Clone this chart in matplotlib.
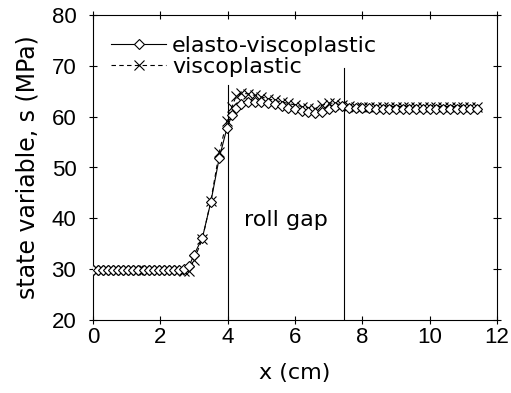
import matplotlib.pyplot as plt

# x positions (cm)
x = [0.0, 0.15, 0.3, 0.45, 0.6, 0.75, 0.9, 1.05, 1.2, 1.35, 1.5, 1.65, 1.8, 1.95,
     2.1, 2.25, 2.4, 2.55, 2.7, 2.85, 3.0, 3.25, 3.5, 3.75, 3.98, 4.13, 4.25, 4.4,
     4.6, 4.8, 5.0, 5.2, 5.4, 5.6, 5.8, 6.0, 6.2, 6.4, 6.6, 6.8, 7.0, 7.2, 7.4,
     7.6, 7.8, 8.0, 8.2, 8.4, 8.6, 8.8, 9.0, 9.2, 9.4, 9.6, 9.8, 10.0, 10.2, 10.4,
     10.6, 10.8, 11.0, 11.2, 11.4]

elasto = [29.8, 29.8, 29.8, 29.8, 29.8, 29.8, 29.8, 29.8, 29.8, 29.8, 29.8, 29.8, 29.8, 29.8,
          29.8, 29.8, 29.8, 29.9, 30.1, 30.6, 32.8, 36.2, 43.2, 51.9, 57.8, 60.3, 61.8, 62.5,
          62.8, 62.9, 62.8, 62.6, 62.4, 62.1, 61.8, 61.5, 61.2, 60.9, 60.7, 60.9, 61.6, 62.0, 62.1,
          61.8, 61.7, 61.7, 61.7, 61.6, 61.6, 61.6, 61.6, 61.6, 61.6, 61.6, 61.6, 61.6, 61.6, 61.6,
          61.6, 61.6, 61.6, 61.6, 61.6]

visco = [29.9, 29.9, 29.9, 29.9, 29.9, 29.9, 29.9, 29.9, 29.9, 29.9, 29.9, 29.9, 29.9, 29.9,
         29.9, 29.9, 29.9, 29.8, 29.7, 29.6, 31.8, 36.0, 43.4, 53.0, 59.2, 62.0, 64.0, 64.6,
         64.5, 64.2, 63.9, 63.5, 63.2, 62.9, 62.6, 62.3, 62.0, 61.8, 61.6, 62.2, 62.7, 62.6, 62.3,
         62.1, 62.0, 62.0, 62.0, 62.0, 62.0, 62.0, 62.0, 62.0, 62.0, 62.0, 62.0, 62.0, 62.0, 62.0,
         62.0, 62.0, 62.0, 62.0, 62.0]

gap_start, gap_end = 4.0, 7.45

plt.rcParams['font.family'] = 'DejaVu Sans'
fs = 16
fig = plt.figure(figsize=(5.11, 3.93), dpi=100)
ax = fig.add_axes([93/511, 73/393, 404/511, 305/393])

ax.plot(x, elasto, color="black", linewidth=0.8, marker="D", markersize=5,
        markerfacecolor="white", markeredgecolor="black", markeredgewidth=0.8,
        label="elasto-viscoplastic", zorder=3)
ax.plot(x, visco, color="black", linewidth=0.8, linestyle=(0, (4, 3)), marker="x",
        markersize=7, markeredgewidth=0.8, label="viscoplastic", zorder=2)

ax.plot([gap_start, gap_start], [20, 66.2], color="black", linewidth=0.8)
ax.plot([gap_end, gap_end], [20, 69.6], color="black", linewidth=0.8)
ax.text(4.5, 39.7, "roll gap", fontsize=fs, va="center")

ax.set_xlim(0, 12)
ax.set_ylim(20, 80)
ax.set_xticks([0, 2, 4, 6, 8, 10, 12])
ax.set_yticks([20, 30, 40, 50, 60, 70, 80])
ax.tick_params(axis="both", labelsize=16, width=0.8, length=6, direction="inout",
               labelfontfamily="Liberation Sans")
ax.tick_params(axis="x", pad=2)
ax.tick_params(axis="y", pad=9)
ax.tick_params(top=True, right=True)
for s in ax.spines.values():
    s.set_linewidth(0.8)

ax.set_xlabel("x (cm)", fontsize=fs, labelpad=11)
ax.set_ylabel("state variable, s (MPa)", fontsize=17, labelpad=9)

ax.legend(loc="upper left", bbox_to_anchor=(0.0, 0.99), frameon=False, fontsize=fs,
          handlelength=2.5, handletextpad=0.25, labelspacing=0.05,
          borderaxespad=0.4, borderpad=0.4)

fig.savefig("out.png", dpi=100)
